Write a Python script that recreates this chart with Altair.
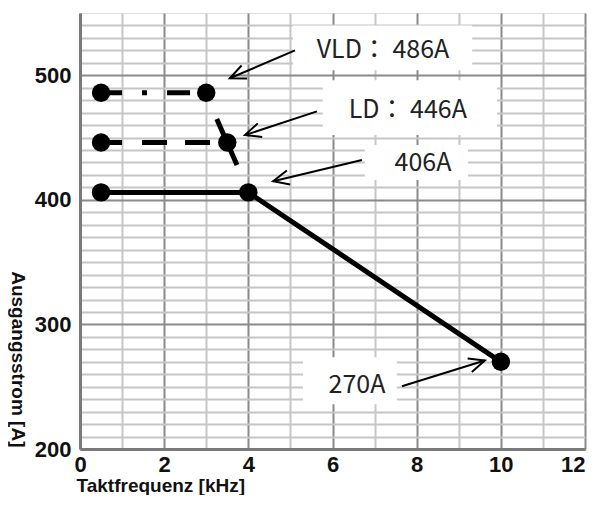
import math
import altair as alt
import pandas as pd

# ---- data ----
freq_main = [0.5, 4.0, 10.0]
curr_main = [406, 406, 270]
freq_ld = [0.5, 3.5]
curr_ld = [446, 446]
freq_vld = [0.5, 3.0]
curr_vld = [486, 486]
ld_tail_x = [3.25, 3.73]
ld_tail_y = [465, 428]

labels = ["VLD： 486A", "LD： 446A", "406A", "270A"]
label_x = [7.2, 7.79, 8.15, 6.58]
label_y = [520, 472, 429.6, 251]
box_x1 = [5.06, 5.77, 6.77, 5.30]
box_x2 = [9.32, 9.91, 9.22, 7.53]
box_y1 = [504, 452, 416, 236]
box_y2 = [540, 496, 444, 273.6]
arrow_tail_x = [5.11, 5.63, 6.70, 7.65]
arrow_tail_y = [520, 471, 432, 250.4]
arrow_tip_x = [3.56, 3.92, 4.59, 9.62]
arrow_tip_y = [497.6, 452, 415, 271]

x_ticks = list(range(0, 13))
y_ticks = list(range(200, 541, 10))

W, H = 505, 436
X_DOM = [0, 12]
Y_DOM = [200, 550]
px_x = W / (X_DOM[1] - X_DOM[0])
px_y = H / (Y_DOM[1] - Y_DOM[0])

angles = []
for tx, ty, hx, hy in zip(arrow_tail_x, arrow_tail_y, arrow_tip_x, arrow_tip_y):
    dx = (hx - tx) * px_x
    dy = -(hy - ty) * px_y
    angles.append(math.degrees(math.atan2(dy, dx)) % 360)

xs = alt.Scale(domain=X_DOM, nice=False, zero=False)
ys = alt.Scale(domain=Y_DOM, nice=False, zero=False)

x_axis = alt.Axis(
    values=x_ticks,
    tickCount=200,
    format="d",
    labelExpr="datum.value % 2 == 0 ? datum.label : ''",
    labelAlign={"condition": {"test": "datum.value == 12", "value": "right"}, "value": "center"},
    labelOverlap=False,
    title="Taktfrequenz [kHz]",
    ticks=False,
    grid=True,
    gridColor={"condition": {"test": "datum.value % 2 == 0", "value": "#8a8a8a"}, "value": "#c6c6c6"},
    gridWidth=2,
    domainColor="#7a7a7a",
    domainWidth=3,
    labelFont="Liberation Sans",
    labelFontWeight="bold",
    labelFontSize=22,
    labelColor="#111111",
    labelPadding=5,
    labelFlush=False,
    titleFont="Liberation Sans",
    titleFontWeight="bold",
    titleFontSize=19,
    titleColor="#111111",
    titleAnchor="start",
    titleX=-4,
    titlePadding=1,
)
y_axis = alt.Axis(
    values=y_ticks,
    tickCount=200,
    format="d",
    labelExpr="datum.value % 100 == 0 ? datum.label : ''",
    labelOverlap=False,
    title="Ausgangsstrom [A]",
    ticks=False,
    grid=True,
    gridColor={"condition": {"test": "datum.value % 100 == 0", "value": "#8a8a8a"}, "value": "#c6c6c6"},
    gridWidth=2,
    domainColor="#7a7a7a",
    domainWidth=3,
    labelFont="Liberation Sans",
    labelFontWeight="bold",
    labelFontSize=22,
    labelColor="#111111",
    labelPadding=9,
    labelFlush=False,
    titleFont="Liberation Sans",
    titleFontWeight="bold",
    titleFontSize=19,
    titleColor="#111111",
    titleAngle=90,
    titleAlign="right",
    titleBaseline="middle",
    titleX=-63,
    titleY=H - 2,
)

main_df = pd.DataFrame({"f": freq_main, "i": curr_main})
ld_df = pd.DataFrame({"f": freq_ld, "i": curr_ld})
vld_df = pd.DataFrame({"f": freq_vld, "i": curr_vld})
tail_df = pd.DataFrame({"f": ld_tail_x, "i": ld_tail_y})
pts_df = pd.concat([main_df, ld_df, vld_df], ignore_index=True)
ann_df = pd.DataFrame({
    "label": labels, "lx": label_x, "ly": label_y,
    "bx1": box_x1, "bx2": box_x2, "by1": box_y1, "by2": box_y2,
    "tx": arrow_tail_x, "ty": arrow_tail_y, "hx": arrow_tip_x, "hy": arrow_tip_y,
    "ang": angles,
})

base_axes = alt.Chart(main_df).mark_line(opacity=0).encode(
    x=alt.X("f:Q", scale=xs, axis=x_axis),
    y=alt.Y("i:Q", scale=ys, axis=y_axis),
)

boxes = alt.Chart(ann_df).mark_rect(color="white").encode(
    x=alt.X("bx1:Q", scale=xs), x2="bx2:Q",
    y=alt.Y("by1:Q", scale=ys), y2="by2:Q",
)

line_main = alt.Chart(main_df).mark_line(color="black", strokeWidth=5, strokeCap="butt").encode(
    x=alt.X("f:Q", scale=xs), y=alt.Y("i:Q", scale=ys))
line_ld = alt.Chart(ld_df).mark_line(color="black", strokeWidth=5, strokeCap="butt",
                                     strokeDash=[21, 20, 25, 18, 25, 30]).encode(
    x=alt.X("f:Q", scale=xs), y=alt.Y("i:Q", scale=ys))
line_vld = alt.Chart(vld_df).mark_line(color="black", strokeWidth=5, strokeCap="butt",
                                       strokeDash=[21, 20, 5, 20, 23, 30]).encode(
    x=alt.X("f:Q", scale=xs), y=alt.Y("i:Q", scale=ys))
line_tail = alt.Chart(tail_df).mark_line(color="black", strokeWidth=5, strokeCap="butt").encode(
    x=alt.X("f:Q", scale=xs), y=alt.Y("i:Q", scale=ys))

points = alt.Chart(pts_df).mark_circle(color="black", size=340, opacity=1).encode(
    x=alt.X("f:Q", scale=xs), y=alt.Y("i:Q", scale=ys))

shafts = alt.Chart(ann_df).mark_rule(color="black", strokeWidth=2).encode(
    x=alt.X("tx:Q", scale=xs), y=alt.Y("ty:Q", scale=ys), x2="hx:Q", y2="hy:Q")

heads = alt.Chart(ann_df).mark_point(
    shape="M-1,-0.45L0,0L-1,0.45", filled=False, size=1000, strokeWidth=2,
    color="black", opacity=1, strokeCap="butt").encode(
    x=alt.X("hx:Q", scale=xs), y=alt.Y("hy:Q", scale=ys),
    angle=alt.Angle("ang:Q", scale=None))

texts = alt.Chart(ann_df).mark_text(
    font="Noto Sans CJK JP", fontSize=25, color="#222222", align="center", baseline="middle").encode(
    x=alt.X("lx:Q", scale=xs), y=alt.Y("ly:Q", scale=ys), text="label:N")

chart = alt.layer(
    base_axes, boxes, line_main, line_ld, line_vld, line_tail, points, shafts, heads, texts
).properties(
    width=W, height=H,
    autosize=alt.AutoSizeParams(type="none"),
    padding={"left": 72, "top": 5, "right": 2, "bottom": 46},
).configure_view(stroke="#8a8a8a", strokeWidth=2).configure(background="white")

chart.save("out.html", embed_options={"renderer": "svg", "actions": False})
